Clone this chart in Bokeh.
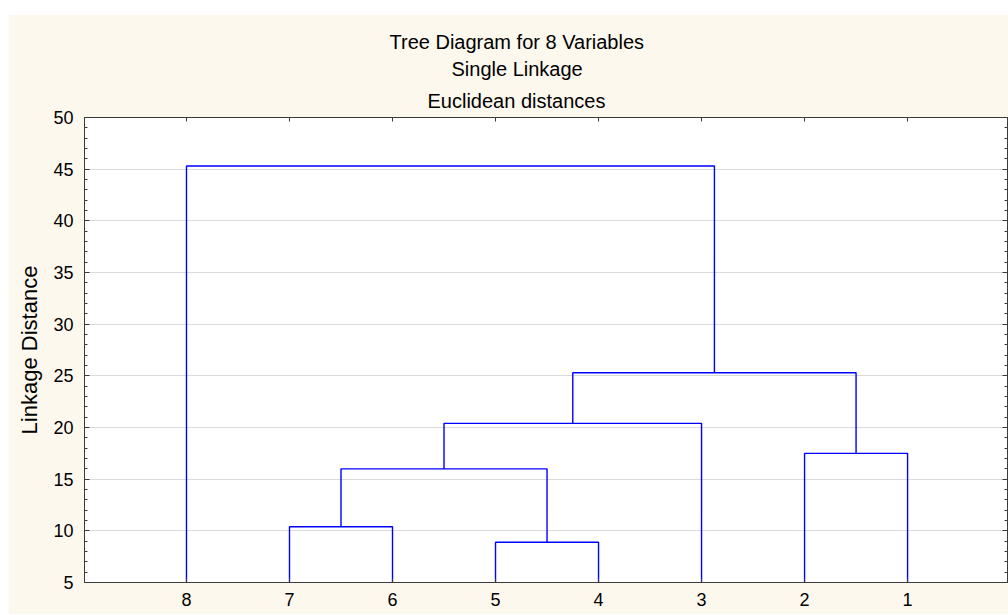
from bokeh.plotting import figure
from bokeh.models import (Range1d, LinearAxis, FixedTicker, Title, Spacer,
                          CustomLabelingPolicy)
from bokeh.layouts import column, row
from bokeh.embed import file_html
from bokeh.resources import INLINE

# ---- data ----
leaves = ["8", "7", "6", "5", "4", "3", "2", "1"]
# linkage: clusters indexed 0..7 are leaves, 8+ are merges in this order
link_a = [1, 3, 8, 10, 6, 11, 0]
link_b = [2, 4, 9, 5, 7, 12, 13]
link_h = [10.4, 8.9, 16.0, 20.4, 17.5, 25.3, 45.3]
y_ticks = [5, 10, 15, 20, 25, 30, 35, 40, 45, 50]
title_lines = ["Tree Diagram for 8 Variables", "Single Linkage", "Euclidean distances"]

FONT = "Liberation Sans"
BG = "#fdf8ee"
BLUE = "#0000ff"
AX = "#3a3a3a"

# ---- compute dendrogram segments ----
pos_x = {i: i + 1 for i in range(len(leaves))}
pos_y = {i: 5 for i in range(len(leaves))}
xs, ys = [], []
for k, (a, b, h) in enumerate(zip(link_a, link_b, link_h)):
    xa_, xb_ = pos_x[a], pos_x[b]
    xs.append([xa_, xa_, xb_, xb_])
    ys.append([pos_y[a], h, h, pos_y[b]])
    cid = len(leaves) + k
    pos_x[cid] = (xa_ + xb_) / 2
    pos_y[cid] = h

p = figure(width=1000, height=600, output_backend="svg", toolbar_location=None,
           x_range=Range1d(0.01, 8.97), y_range=Range1d(5, 50),
           min_border_left=76, min_border_right=1, min_border_top=103,
           min_border_bottom=32, background_fill_color="white",
           border_fill_color=BG, outline_line_color=None)
p.title.text = ""

p.multi_line(xs, ys, line_color=BLUE, line_width=1.4)

# grid
p.xgrid.visible = False
p.ygrid.ticker = FixedTicker(ticks=y_ticks)
p.ygrid.grid_line_color = "#dadada"
p.ygrid.grid_line_width = 1

no_labels = CustomLabelingPolicy(code="""
    for (const i of Array.from(indices)) { indices.unset(i) }
    return indices
""")

# bottom axis
xa = p.xaxis[0]
xa.ticker = FixedTicker(ticks=list(range(1, len(leaves) + 1)))
xa.major_label_overrides = {i + 1: lab for i, lab in enumerate(leaves)}
xa.major_tick_in = 4
xa.major_tick_out = 0
xa.minor_tick_line_color = None
xa.axis_line_color = AX
xa.major_tick_line_color = AX
xa.major_label_text_font = FONT
xa.major_label_text_font_size = "18px"
xa.major_label_text_color = "black"
xa.major_label_standoff = 10

# left axis
ya = p.yaxis[0]
ya.ticker = FixedTicker(ticks=y_ticks, minor_ticks=list(range(5, 51)))
ya.major_tick_in = 5
ya.major_tick_out = 0
ya.minor_tick_in = 3
ya.minor_tick_out = 0
ya.axis_line_color = AX
ya.major_tick_line_color = AX
ya.minor_tick_line_color = AX
ya.major_label_text_font = FONT
ya.major_label_text_font_size = "18px"
ya.major_label_text_color = "black"
ya.major_label_standoff = 11
ya.axis_label = "Linkage Distance"
ya.axis_label_text_font = FONT
ya.axis_label_text_font_size = "22px"
ya.axis_label_text_font_style = "normal"
ya.axis_label_text_color = "black"
ya.axis_label_standoff = 8

# right axis
ra = LinearAxis(ticker=FixedTicker(ticks=y_ticks, minor_ticks=list(range(5, 51))),
                major_tick_in=5, major_tick_out=0, minor_tick_in=3, minor_tick_out=0,
                axis_line_color=AX, major_tick_line_color=AX, minor_tick_line_color=AX,
                major_label_policy=no_labels, major_label_text_font_size="0px",
                major_label_standoff=0)
p.add_layout(ra, "right")

# top axis
ta = LinearAxis(ticker=FixedTicker(ticks=list(range(1, len(leaves) + 1))),
                major_tick_in=4, major_tick_out=0, minor_tick_line_color=None,
                axis_line_color=AX, major_tick_line_color=AX,
                major_label_policy=no_labels, major_label_text_font_size="0px",
                major_label_standoff=0)
p.add_layout(ta, "above")

# titles (added bottom-most first), left aligned with offsets so that
# each line is centred where the reference centres it
for txt, so, off in zip(title_lines[::-1], [12, 3, 3], [343, 367, 305]):
    p.add_layout(Title(text=txt, align="left", offset=off, text_font=FONT,
                       text_font_size="20px", text_font_style="normal",
                       text_color="black", standoff=so), "above")

layout = column(Spacer(height=14, width=1008),
                row(Spacer(width=8, height=600), p, spacing=0), spacing=0)
open("out.html", "w").write(file_html(layout, INLINE))
